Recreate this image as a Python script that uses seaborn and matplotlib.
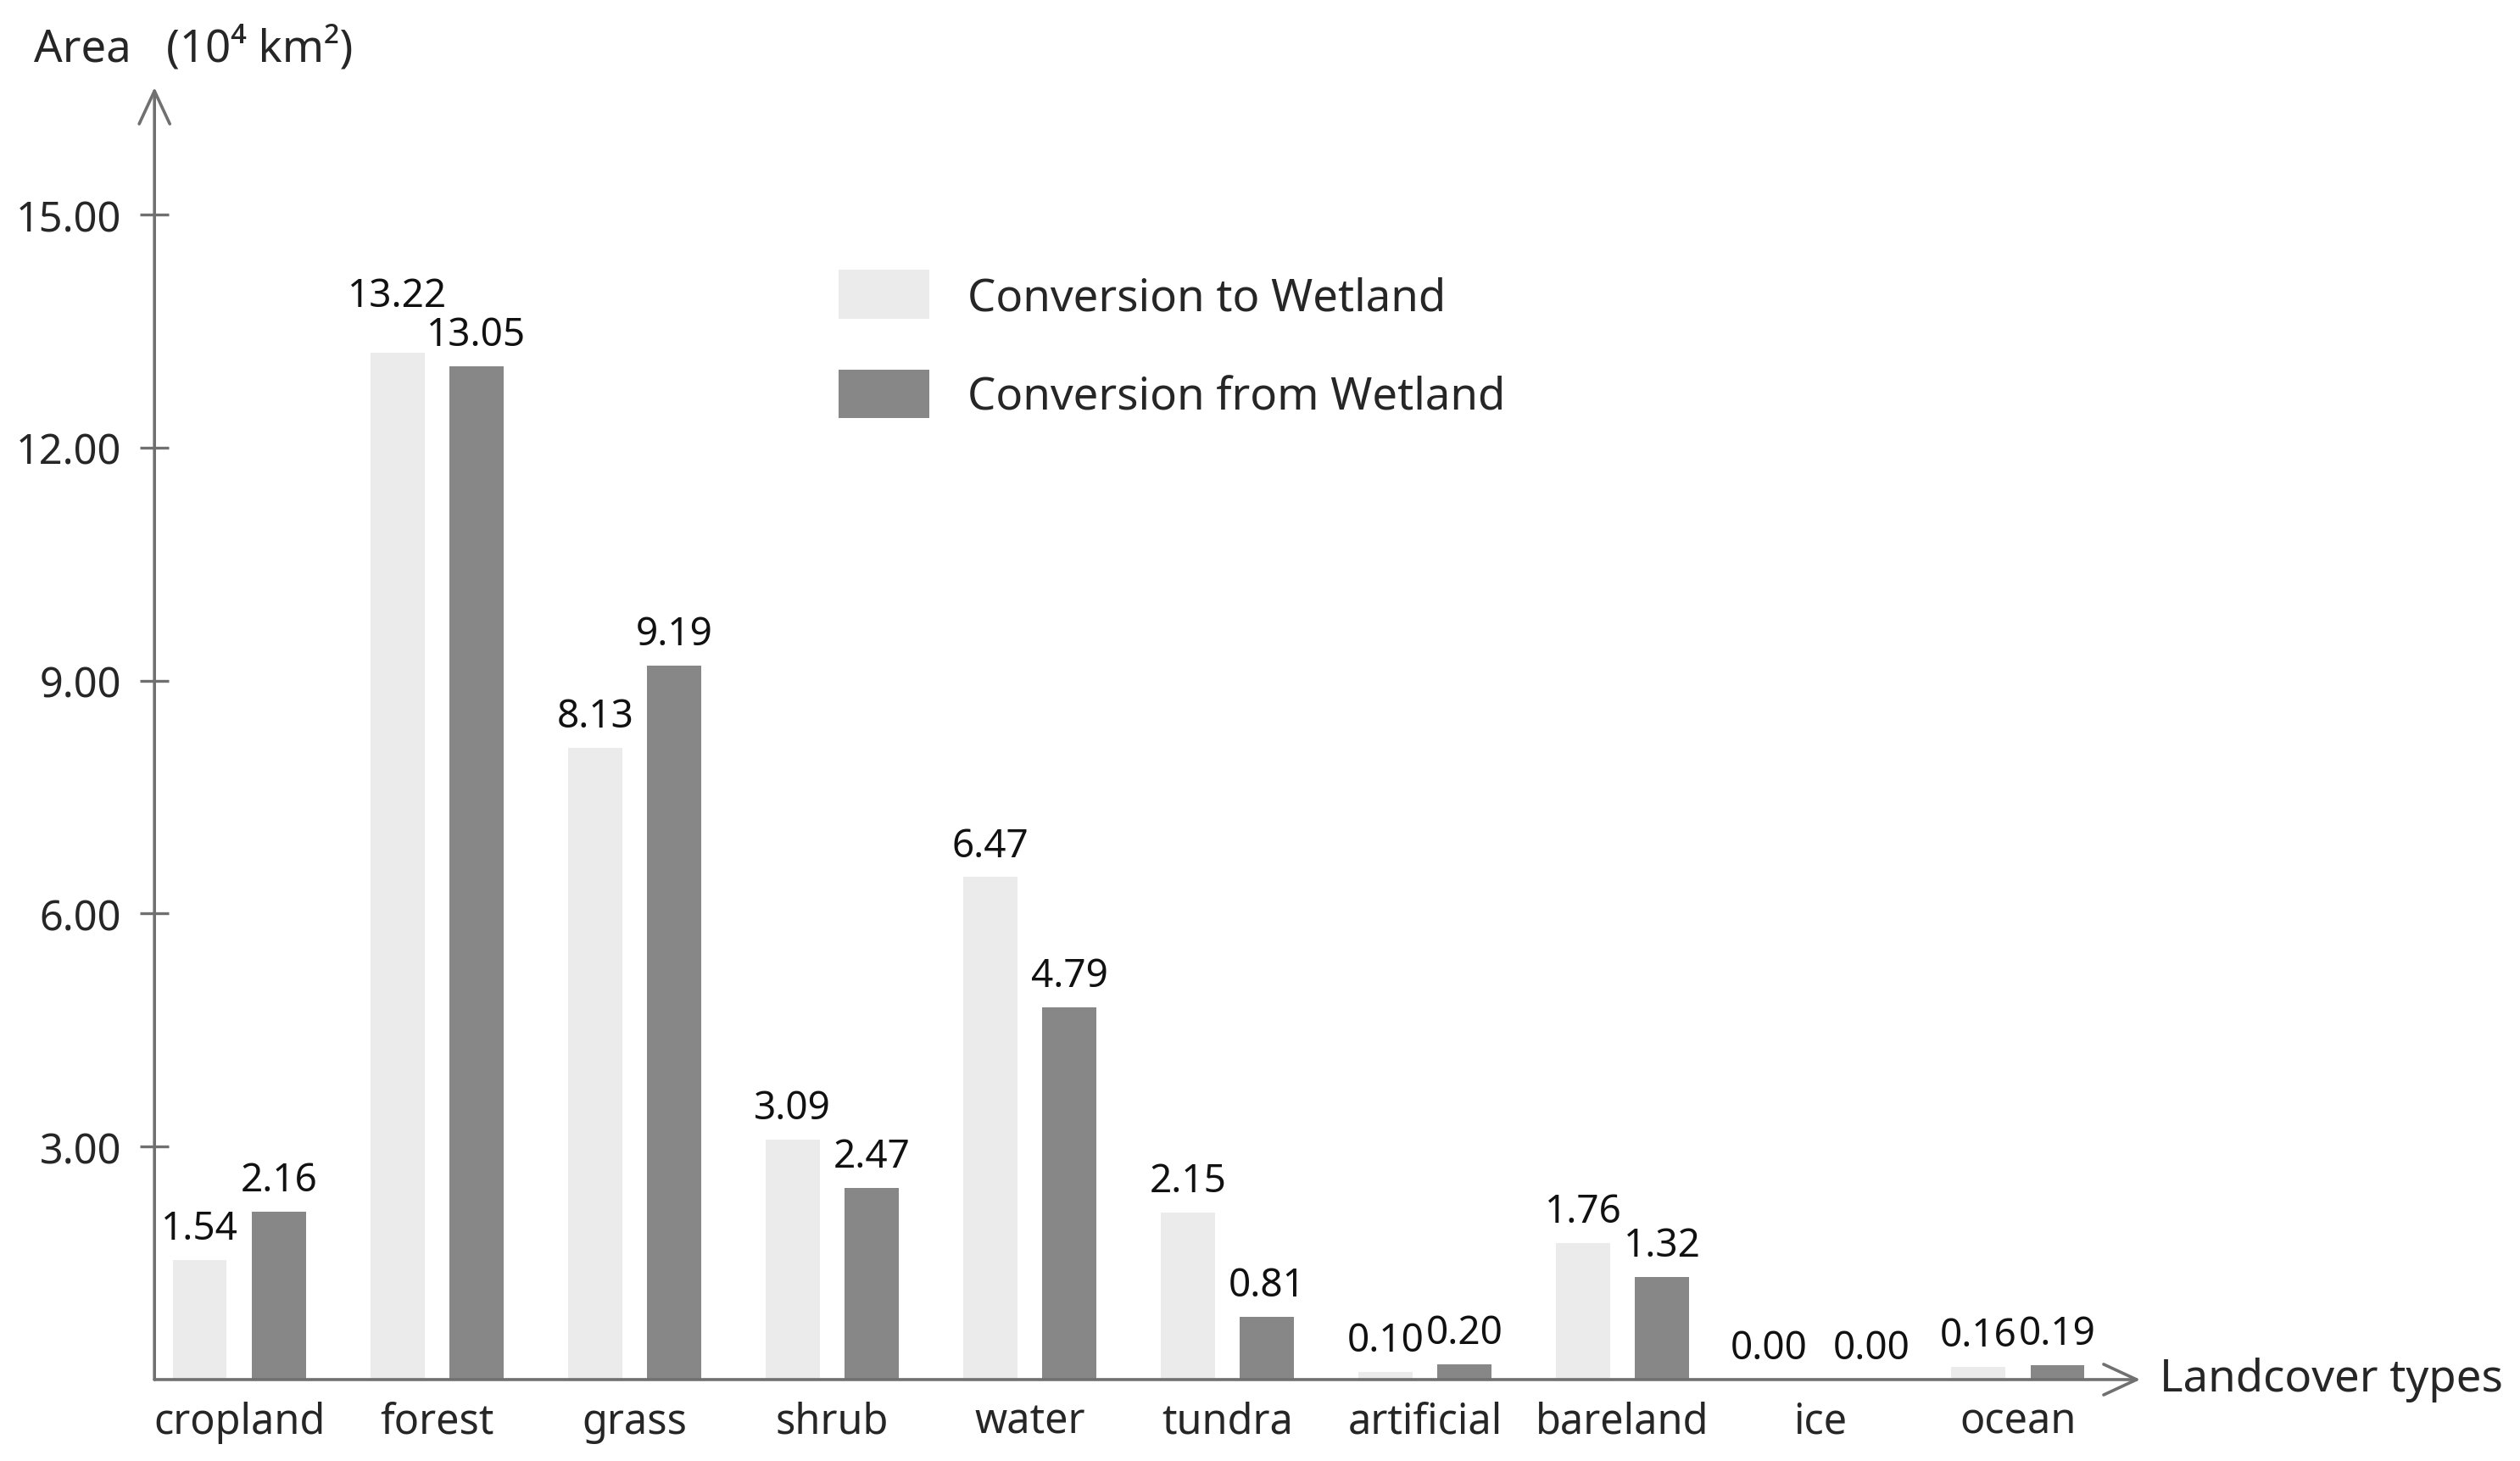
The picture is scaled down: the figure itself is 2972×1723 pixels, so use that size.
import pandas as pd
import numpy as np
import matplotlib.pyplot as plt
import seaborn as sns

# Land cover conversion to / from wetland (10^4 km2)
landcover = ['cropland', 'forest', 'grass', 'shrub', 'water', 'tundra',
             'artificial', 'bareland', 'ice', 'ocean']
to_wetland = [1.54, 13.22, 8.13, 3.09, 6.47, 2.15, 0.10, 1.76, 0.00, 0.16]
from_wetland = [2.16, 13.05, 9.19, 2.47, 4.79, 0.81, 0.20, 1.32, 0.00, 0.19]
series = ['Conversion to Wetland', 'Conversion from Wetland']
yticks = [3, 6, 9, 12, 15]

df = pd.DataFrame({
    'type': landcover * 2,
    'area': to_wetland + from_wetland,
    'series': [series[0]] * len(landcover) + [series[1]] * len(landcover),
})

sns.set_style('white')
plt.rcParams['font.family'] = ['Noto Sans', 'DejaVu Sans']
axis_col = '#707070'

fig = plt.figure(figsize=(14.86, 8.62), dpi=200)
ax = fig.add_axes([0.0613, 0.0557, 0.788, 0.884])

sns.barplot(data=df, x='type', y='area', hue='series', order=landcover,
            hue_order=series, palette=['#ebebeb', '#878787'],
            width=0.8, gap=0.32, linewidth=0, ax=ax)

pad = 5
labs = [ax.bar_label(cont, fmt='%.2f', padding=pad, fontsize=16.5,
                     color='#111111') for cont in ax.containers]

# keep neighbouring labels apart
for i in range(len(landcover)):
    a, b = to_wetland[i], from_wetland[i]
    if a == b == 0:
        labs[0][i].xyann = (-5, pad)
        labs[1][i].xyann = (5, pad)
    elif a > 1 and abs(a - b) < 0.3:
        hi = 0 if a > b else 1
        labs[hi][i].xyann = (0, pad + 11)

ax.set_ylim(0, 16.64)
ax.set_xlim(-0.43, 9.62)
ax.set_yticks(yticks)
ax.set_yticklabels([f'{v:.2f}' for v in yticks])
ax.set_xlabel('')
ax.set_ylabel('')
for s in ax.spines.values():
    s.set_visible(False)

ax.tick_params(axis='y', direction='inout', length=12, width=1.2,
               color=axis_col, labelsize=17.5, pad=8, left=True)
ax.tick_params(axis='x', length=0, labelsize=17.5, pad=9)

# axis arrows
arrow = dict(arrowstyle='->,head_length=1.4,head_width=0.65', color=axis_col,
             lw=1.3, mutation_scale=10, shrinkA=0, shrinkB=0)
ax.annotate('', xy=(0, 1), xytext=(0, 0), xycoords='axes fraction',
            arrowprops=arrow)
ax.annotate('', xy=(1, 0), xytext=(0, 0), xycoords='axes fraction',
            arrowprops=arrow)

fig.text(0.0135, 0.958, 'Area   (10\u2074 km\u00b2)', fontsize=19, ha='left',
         va='baseline')
fig.text(0.857, 0.0557, 'Landcover types', fontsize=19, ha='left',
         va='center')

handles, labels = ax.get_legend_handles_labels()
ax.legend(handles, labels, frameon=False, loc='upper left',
          bbox_to_anchor=(0.324, 0.83), bbox_transform=fig.transFigure,
          fontsize=19, handlelength=2.03, handleheight=1.31,
          labelspacing=1.09, handletextpad=0.85, borderpad=0)

fig.savefig('out.png', dpi=200)
